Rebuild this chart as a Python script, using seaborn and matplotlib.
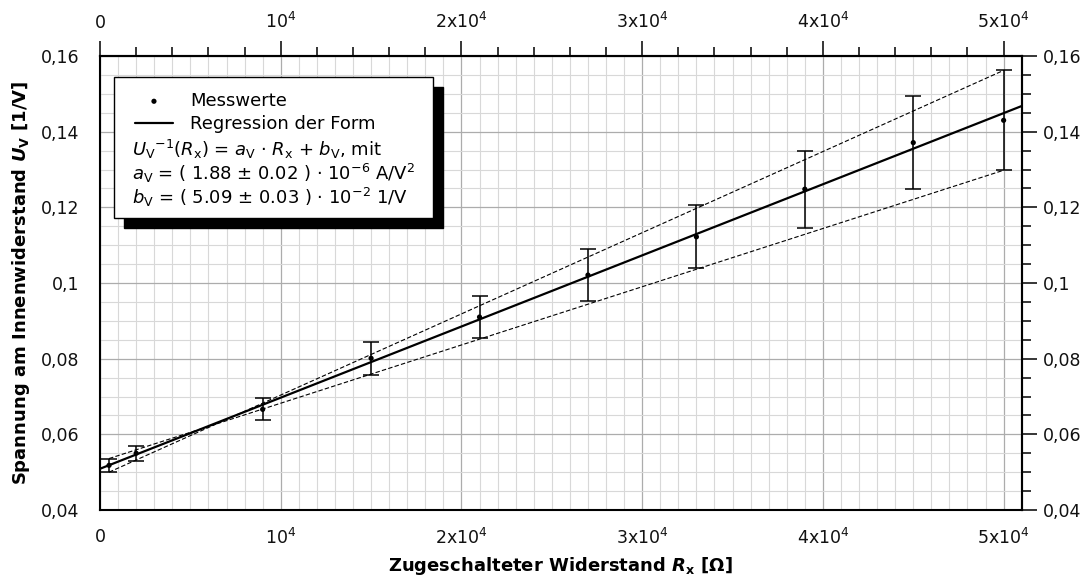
import numpy as np
import pandas as pd
import matplotlib
matplotlib.use("Agg")
import matplotlib.pyplot as plt
import matplotlib.ticker as mticker
from matplotlib.patches import Rectangle
import seaborn as sns

# Messwerte
r_x = [500, 2000, 9000, 15000, 21000, 27000, 33000, 39000, 45000, 50000]
u_inv = [0.0518, 0.0550, 0.0666, 0.0801, 0.0910, 0.1021, 0.1122, 0.1248, 0.1371, 0.1430]
u_err = [0.0018, 0.0020, 0.0029, 0.0044, 0.0055, 0.0068, 0.0083, 0.0102, 0.0122, 0.0132]

# Regressionsparameter
a_v = 1.88e-6
b_v = 5.09e-2

x_ticks = [0, 10000, 20000, 30000, 40000, 50000]
x_tick_labels = ["0", "$10^4$", "2x$10^4$", "3x$10^4$", "4x$10^4$", "5x$10^4$"]
y_ticks = [0.04, 0.06, 0.08, 0.10, 0.12, 0.14, 0.16]
y_tick_labels = ["0,04", "0,06", "0,08", "0,1", "0,12", "0,14", "0,16"]

x_min, x_max = 0, 51000
y_min, y_max = 0.04, 0.16


def main():
    sns.set_theme(style="white")
    plt.rcParams["font.family"] = ["DejaVu Sans"]
    plt.rcParams["mathtext.fontset"] = "dejavusans"
    plt.rcParams["text.color"] = "black"
    plt.rcParams["axes.labelcolor"] = "black"

    df = pd.DataFrame({"R": r_x, "U": u_inv, "err": u_err})

    fig = plt.figure(figsize=(10.89, 5.87), dpi=100)
    ax = fig.add_axes([100 / 1089, 1 - 510 / 587, 921.7 / 1089, 454 / 587])

    # Regressionsgerade
    x_fit = np.array([x_min, x_max])
    fit = pd.DataFrame({"R": x_fit, "U": a_v * x_fit + b_v})
    sns.lineplot(data=fit, x="R", y="U", color="black", lw=1.6, ax=ax,
                 label="Regression der Form", zorder=4)

    # Grenzgeraden durch die Fehlerbalken
    lo = df["U"] - df["err"]
    hi = df["U"] + df["err"]
    up = pd.DataFrame({"R": [r_x[0], r_x[-1]], "U": [lo.iloc[0], hi.iloc[-1]]})
    dn = pd.DataFrame({"R": [r_x[0], r_x[-1]], "U": [hi.iloc[0], lo.iloc[-1]]})
    for d in (up, dn):
        sns.lineplot(data=d, x="R", y="U", color="black", lw=0.8, ax=ax,
                     dashes=False, linestyle=(0, (4, 2)), zorder=3)

    ax.errorbar(df["R"], df["U"], yerr=df["err"], fmt="none", ecolor="black",
                elinewidth=1.1, capsize=6, capthick=1.1, zorder=5)
    sns.scatterplot(data=df, x="R", y="U", color="black", s=14, edgecolor="none",
                    ax=ax, label="Messwerte", zorder=6)

    ax.set_xlim(x_min, x_max)
    ax.set_ylim(y_min, y_max)

    # Gitter
    ax.set_xticks(x_ticks)
    ax.set_xticklabels(x_tick_labels)
    ax.set_yticks(y_ticks)
    ax.set_yticklabels(y_tick_labels)
    ax.xaxis.set_minor_locator(mticker.MultipleLocator(2000))
    ax.yaxis.set_minor_locator(mticker.MultipleLocator(0.005))
    ax.grid(which="major", color="#acacac", lw=0.9, zorder=0)
    ax.grid(which="minor", color="#d8d8d8", lw=0.8, zorder=0)
    for gx in np.arange(1000, x_max, 2000):
        ax.axvline(gx, color="#d8d8d8", lw=0.8, zorder=0)
    ax.set_axisbelow(True)

    for s in ax.spines.values():
        s.set_linewidth(1.5)
        s.set_color("black")

    tick_kw = dict(direction="out", color="black", width=1.1, labelsize=12.5,
                   labelcolor="#111111")
    ax.tick_params(which="major", length=11, **tick_kw)
    ax.tick_params(axis="x", which="major", pad=2)
    ax.tick_params(axis="y", which="major", pad=4)
    ax.tick_params(which="minor", length=6.5, **tick_kw)

    top = ax.secondary_xaxis("top")
    top.set_xticks(x_ticks)
    top.set_xticklabels(x_tick_labels)
    top.xaxis.set_minor_locator(mticker.MultipleLocator(2000))
    top.tick_params(which="major", length=11, pad=6, **tick_kw)
    top.tick_params(which="minor", length=6.5, **tick_kw)
    top.spines["top"].set_linewidth(1.5)

    right = ax.secondary_yaxis("right")
    right.set_yticks(y_ticks)
    right.set_yticklabels(y_tick_labels)
    right.yaxis.set_minor_locator(mticker.MultipleLocator(0.005))
    right.tick_params(which="major", length=11, pad=4, **tick_kw)
    right.tick_params(which="minor", length=6.5, **tick_kw)
    right.spines["right"].set_linewidth(1.5)

    ax.set_xlabel(r"Zugeschalteter Widerstand $\mathbfit{R}_\mathbf{x}$ [Ω]",
                  fontsize=13, fontweight="bold", labelpad=5, color="black")
    ax.set_ylabel(r"Spannung am Innenwiderstand $\mathbfit{U}_\mathbf{V}$ [1/V]",
                  fontsize=13, fontweight="bold", labelpad=6, color="black")

    # Legendenkasten mit Schatten
    bx0, bx1 = 14 / 921.7, 333 / 921.7
    by0, by1 = (510 - 218) / 454, (510 - 76.7) / 454
    dx, dy = 10 / 921.7, 10 / 454
    ax.add_patch(Rectangle((bx0 + dx, by0 - dy), bx1 - bx0, by1 - by0,
                           transform=ax.transAxes, facecolor="black",
                           edgecolor="black", zorder=7))
    ax.add_patch(Rectangle((bx0, by0), bx1 - bx0, by1 - by0,
                           transform=ax.transAxes, facecolor="white",
                           edgecolor="black", lw=1.0, zorder=8))

    handles, labels = ax.get_legend_handles_labels()
    order = [labels.index("Messwerte"), labels.index("Regression der Form")]
    leg = ax.legend([handles[i] for i in order], [labels[i] for i in order],
                    loc="upper left", bbox_to_anchor=(35 / 921.7, (510 - 92) / 454),
                    frameon=False, fontsize=13, handlelength=2.1,
                    handletextpad=0.95, borderpad=0, borderaxespad=0,
                    labelspacing=0.3)
    leg.set_zorder(9)
    for t in leg.get_texts():
        t.set_color("black")

    lines = [
        r"$U_\mathrm{V}{}^{-1}(R_\mathrm{x})$ = $a_\mathrm{V}$ · $R_\mathrm{x}$ + $b_\mathrm{V}$, mit",
        r"$a_\mathrm{V}$ = ( 1.88 ± 0.02 ) · 10$^{-6}$ A/V$^2$",
        r"$b_\mathrm{V}$ = ( 5.09 ± 0.03 ) · 10$^{-2}$ 1/V",
    ]
    for i, t in enumerate(lines):
        ax.text(32 / 921.7, (510 - 149 - 24 * i) / 454, t, transform=ax.transAxes,
                fontsize=13, va="center", ha="left", zorder=9, color="black")

    fig.savefig("out.png", dpi=100)


if __name__ == "__main__":
    main()
